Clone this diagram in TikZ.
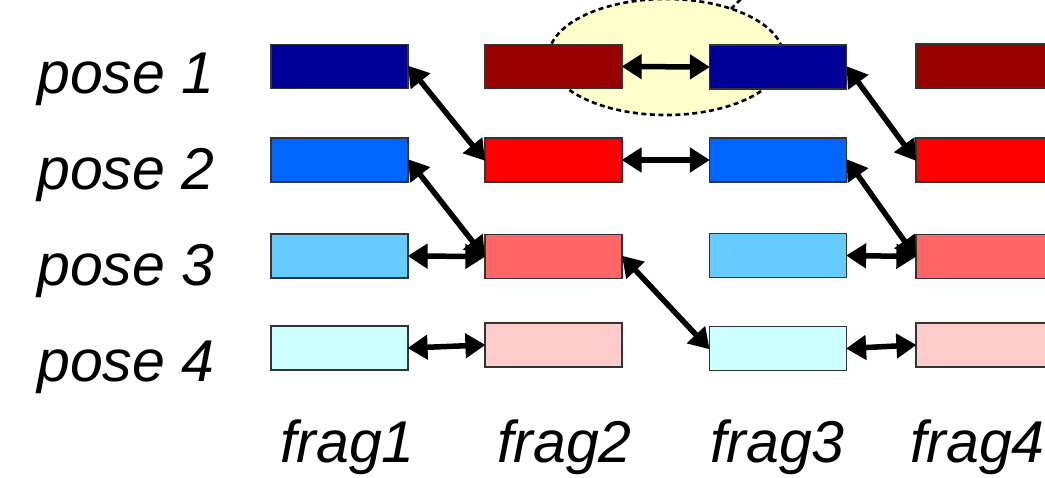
\documentclass[tikz,border=0pt]{standalone}
\usepackage{fontspec}
\setmainfont{Liberation Sans}
\usetikzlibrary{arrows.meta}
\definecolor{b1}{HTML}{000099}
\definecolor{b2}{HTML}{0066FF}
\definecolor{b3}{HTML}{66CCFF}
\definecolor{b4}{HTML}{CCFFFF}
\definecolor{r1}{HTML}{990000}
\definecolor{r2}{HTML}{FF0000}
\definecolor{r3}{HTML}{FF6666}
\definecolor{r4}{HTML}{FFCCCC}
\definecolor{hilite}{HTML}{FFFFCC}
\tikzset{
  fragbox/.style={draw=black!80, line width=1.2pt, inner sep=0pt, minimum width=137pt, minimum height=44pt},
  link/.style={line width=5.5pt, {Triangle[length=20pt,width=24pt]}-{Triangle[length=20pt,width=24pt]}, shorten <=-1pt, shorten >=-1pt},
  lbl/.style={font=\fontsize{59}{70}\selectfont\itshape, inner sep=0pt, anchor=base west},
  dashline/.style={line width=2.6pt, dash pattern=on 5pt off 3.5pt}
}
\begin{document}
\begin{tikzpicture}[x=1pt,y=-1pt]
\clip (0,0) rectangle (1045,477);
\fill[white] (0,0) rectangle (1045,477);
% highlight ellipse
\draw[dashline, fill=hilite] (666,57) ellipse [x radius=117.5, y radius=58];
\coordinate (e1) at (731,9);
\coordinate (e2) at (746,-6);
\draw[dashline] (e1) -- (e2);
% boxes
\node[fragbox, fill=b1] (a1) at (339.5,66.5) {};
\node[fragbox, fill=b2] (a2) at (339.5,160) {};
\node[fragbox, fill=b3] (a3) at (339.5,256) {};
\node[fragbox, fill=b4] (a4) at (339.5,348) {};
\node[fragbox, fill=r1] (b1n) at (553.5,66.5) {};
\node[fragbox, fill=r2] (b2n) at (553.5,160) {};
\node[fragbox, fill=r3] (b3n) at (553.5,256.5) {};
\node[fragbox, fill=r4] (b4n) at (553.5,345) {};
\node[fragbox, fill=b1] (c1) at (778,67) {};
\node[fragbox, fill=b2] (c2) at (778,160) {};
\node[fragbox, fill=b3] (c3) at (778,255.5) {};
\node[fragbox, fill=b4] (c4) at (778,348.5) {};
\node[fragbox, fill=r1] (d1) at (984.5,66) {};
\node[fragbox, fill=r2] (d2) at (984.5,160) {};
\node[fragbox, fill=r3] (d3) at (984.5,256.5) {};
\node[fragbox, fill=r4] (d4) at (984.5,345) {};
% connectors
\draw[link] (a1.east) -- (b2n.west);
\draw[link] (a2.east) -- (b3n.west);
\draw[link] (a3.east) -- (b3n.west);
\draw[link] (a4.east) -- (b4n.west);
\draw[link] (b1n.east) -- (c1.west);
\draw[link] (b2n.east) -- (c2.west);
\draw[link] (b3n.east) -- (c4.west);
\draw[link] (c1.east) -- (d2.west);
\draw[link] (c2.east) -- (d3.west);
\draw[link] (c3.east) -- (d3.west);
\draw[link] (c4.east) -- (d4.west);
% labels
\node[lbl] (p1) at (37,93) {pose 1};
\node[lbl] (p2) at (37,189) {pose 2};
\node[lbl] (p3) at (37,285) {pose 3};
\node[lbl] (p4) at (37,381) {pose 4};
\node[lbl] (f1) at (280,462) {frag1};
\node[lbl] (f2) at (497,462) {frag2};
\node[lbl] (f3) at (710,462) {frag3};
\node[lbl] (f4) at (910,462) {frag4};
\end{tikzpicture}
\end{document}
